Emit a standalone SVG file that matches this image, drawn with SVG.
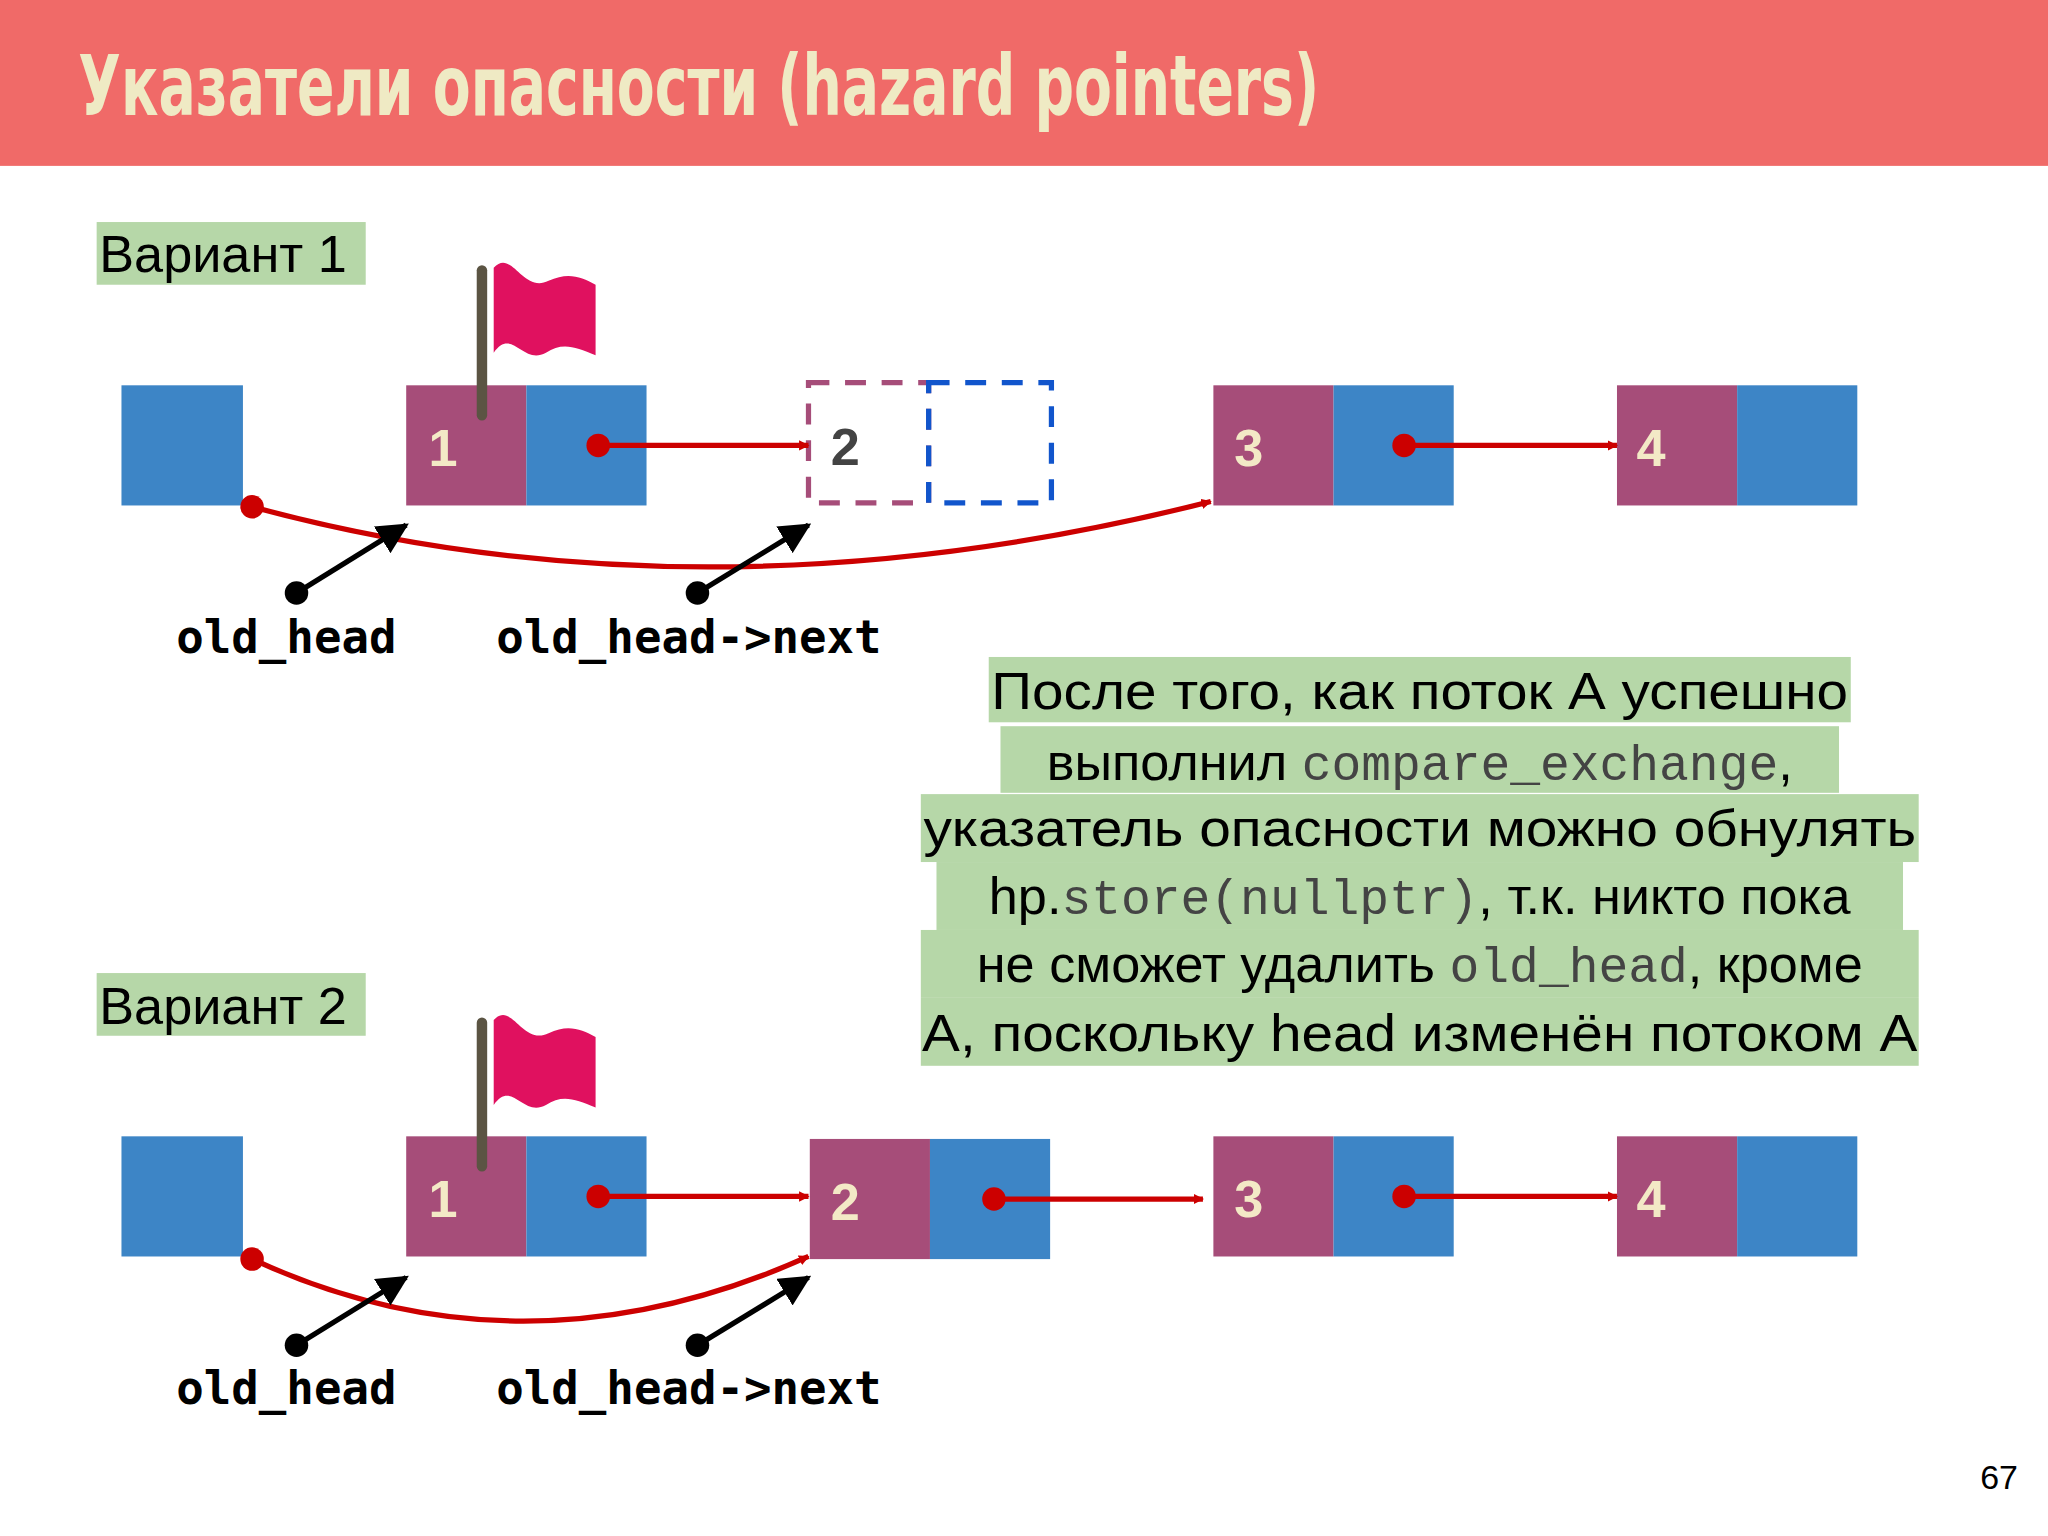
<svg xmlns="http://www.w3.org/2000/svg" width="2048" height="1536" viewBox="0 0 2048 1536">
<style>
.p{fill:#A64D79}.b{fill:#3D85C6}
.num{font-family:"Liberation Sans",Arial,sans-serif;font-weight:bold;font-size:40px;fill:#F3E9C6}
.lbl{font-family:"DejaVu Sans Mono",monospace;font-weight:bold;font-size:35px;fill:#000}
.var{font-family:"Liberation Sans",Arial,sans-serif;font-size:40px;fill:#000}
.red{stroke:#CC0000;stroke-width:4;fill:none}
.blk{stroke:#000;stroke-width:4;fill:none}
.hl{fill:#B6D7A8}
.t{font-family:"Liberation Sans",Arial,sans-serif;font-size:40px;fill:#000}
.m{font-family:"Liberation Mono","Courier New",monospace;font-size:38px;fill:#444}
</style>
<defs>
<marker id="ra" viewBox="0 0 10 10" refX="9" refY="5" markerWidth="8" markerHeight="8" markerUnits="userSpaceOnUse" orient="auto"><path d="M0,0 L10,5 L0,10 z" fill="#CC0000"/></marker>
<marker id="ba" viewBox="0 0 10 10" refX="9" refY="5" markerWidth="6" markerHeight="6" orient="auto"><path d="M0,0 L10,5 L0,10 z" fill="#000"/></marker>
</defs>
<rect width="2048" height="1536" fill="#fff"/>
<g transform="scale(1.30612)">
<rect x="0" y="0" width="1568" height="127" fill="#F06A68"/>
<text x="60" y="88" font-family="'DejaVu Sans Condensed','DejaVu Sans',sans-serif" font-weight="bold" font-size="64" fill="#EFEAC4" textLength="950" lengthAdjust="spacingAndGlyphs">Указатели опасности (hazard pointers)</text>

<g id="variant1">
<rect class="hl" x="74" y="170" width="206" height="48"/>
<text class="var" x="76" y="208">Вариант 1</text>
</g>
<g id="v1n0"><rect class="b" x="93" y="295" width="93" height="92"/></g>
<g id="v1n1"><rect class="p" x="311" y="295" width="92" height="92"/><rect class="b" x="403" y="295" width="92" height="92"/><text class="num" x="328" y="357">1</text></g>
<g id="v1flag"><path d="M378,205 C392,190 400,225 420,215 C435,208 445,212 456,218 L456,272 C440,265 430,262 418,270 C400,280 392,250 378,270 Z" fill="#E0115F"/><line x1="369" y1="207" x2="369" y2="318" stroke="#5B5443" stroke-width="8" stroke-linecap="round"/></g>
<g id="v1n2"><rect x="619" y="293" width="92" height="92" fill="none" stroke="#A64D79" stroke-width="4" stroke-dasharray="16,12"/><rect x="711" y="293" width="94" height="92" fill="none" stroke="#1155CC" stroke-width="4" stroke-dasharray="16,12"/><text class="num" x="636" y="356" fill="#444" style="fill:#434343">2</text></g>
<g id="v1n3"><rect class="p" x="929" y="295" width="92" height="92"/><rect class="b" x="1021" y="295" width="92" height="92"/><text class="num" x="945" y="357">3</text></g>
<g id="v1n4"><rect class="p" x="1238" y="295" width="92" height="92"/><rect class="b" x="1330" y="295" width="92" height="92"/><text class="num" x="1253" y="357">4</text></g>

<g id="variant2">
<rect class="hl" x="74" y="745" width="206" height="48"/>
<text class="var" x="76" y="784">Вариант 2</text>
</g>
<g id="v2n0"><rect class="b" x="93" y="870" width="93" height="92"/></g>
<g id="v2n1"><rect class="p" x="311" y="870" width="92" height="92"/><rect class="b" x="403" y="870" width="92" height="92"/><text class="num" x="328" y="932">1</text></g>
<g id="v2flag"><path d="M378,781 C392,766 400,801 420,791 C435,784 445,788 456,794 L456,848 C440,841 430,838 418,846 C400,856 392,826 378,846 Z" fill="#E0115F"/><line x1="369" y1="783" x2="369" y2="893" stroke="#5B5443" stroke-width="8" stroke-linecap="round"/></g>
<g id="v2n2"><rect class="p" x="620" y="872" width="92" height="92"/><rect class="b" x="712" y="872" width="92" height="92"/><text class="num" x="636" y="934">2</text></g>
<g id="v2n3"><rect class="p" x="929" y="870" width="92" height="92"/><rect class="b" x="1021" y="870" width="92" height="92"/><text class="num" x="945" y="932">3</text></g>
<g id="v2n4"><rect class="p" x="1238" y="870" width="92" height="92"/><rect class="b" x="1330" y="870" width="92" height="92"/><text class="num" x="1253" y="932">4</text></g>

<g id="connectors">
<circle cx="458" cy="341" r="9" fill="#CC0000"/><line class="red" x1="458" y1="341" x2="619" y2="341" marker-end="url(#ra)"/>
<circle cx="1075" cy="341" r="9" fill="#CC0000"/><line class="red" x1="1075" y1="341" x2="1238" y2="341" marker-end="url(#ra)"/>
<circle cx="193" cy="388" r="9" fill="#CC0000"/><path class="red" d="M193,388 Q540,482 927,384" marker-end="url(#ra)"/>
<circle cx="227" cy="454" r="9" fill="#000"/><line class="blk" x1="227" y1="454" x2="311" y2="402" marker-end="url(#ba)"/>
<circle cx="534" cy="454" r="9" fill="#000"/><line class="blk" x1="534" y1="454" x2="619" y2="402" marker-end="url(#ba)"/>

<circle cx="458" cy="916" r="9" fill="#CC0000"/><line class="red" x1="458" y1="916" x2="619" y2="916" marker-end="url(#ra)"/>
<circle cx="761" cy="918" r="9" fill="#CC0000"/><line class="red" x1="761" y1="918" x2="921" y2="918" marker-end="url(#ra)"/>
<circle cx="1075" cy="916" r="9" fill="#CC0000"/><line class="red" x1="1075" y1="916" x2="1238" y2="916" marker-end="url(#ra)"/>
<circle cx="193" cy="964" r="9" fill="#CC0000"/><path class="red" d="M193,964 Q400,1060 619,962" marker-end="url(#ra)"/>
<circle cx="227" cy="1030" r="9" fill="#000"/><line class="blk" x1="227" y1="1030" x2="311" y2="978" marker-end="url(#ba)"/>
<circle cx="534" cy="1030" r="9" fill="#000"/><line class="blk" x1="534" y1="1030" x2="619" y2="978" marker-end="url(#ba)"/>
</g>

<g id="labels">
<text class="lbl" x="135" y="500">old_head</text>
<text class="lbl" x="380" y="500">old_head-&gt;next</text>
<text class="lbl" x="135" y="1075">old_head</text>
<text class="lbl" x="380" y="1075">old_head-&gt;next</text>
</g>

<g id="note">
<rect class="hl" x="757" y="503" width="660" height="50"/>
<rect class="hl" x="766" y="556" width="642" height="51"/>
<rect class="hl" x="705" y="608" width="764" height="52"/>
<rect class="hl" x="717" y="660" width="740" height="52"/>
<rect class="hl" x="705" y="712" width="764" height="52"/>
<rect class="hl" x="705" y="764" width="764" height="52"/>
<text class="t" x="1087" y="543" text-anchor="middle" textLength="656" lengthAdjust="spacingAndGlyphs">После того, как поток А успешно</text>
<text class="t" x="1087" y="597" text-anchor="middle">выполнил <tspan class="m">compare_exchange</tspan>,</text>
<text class="t" x="1087" y="648" text-anchor="middle" textLength="760" lengthAdjust="spacingAndGlyphs">указатель опасности можно обнулять</text>
<text class="t" x="1087" y="700" text-anchor="middle">hp.<tspan class="m">store(nullptr)</tspan>, т.к. никто пока</text>
<text class="t" x="1087" y="752" text-anchor="middle">не сможет удалить <tspan class="m">old_head</tspan>, кроме</text>
<text class="t" x="1087" y="805" text-anchor="middle" textLength="762" lengthAdjust="spacingAndGlyphs">А, поскольку head изменён потоком А</text>
</g>
<text x="1545" y="1140" text-anchor="end" font-family="'Liberation Sans',Arial,sans-serif" font-size="26" fill="#000">67</text>
</g>
</svg>
